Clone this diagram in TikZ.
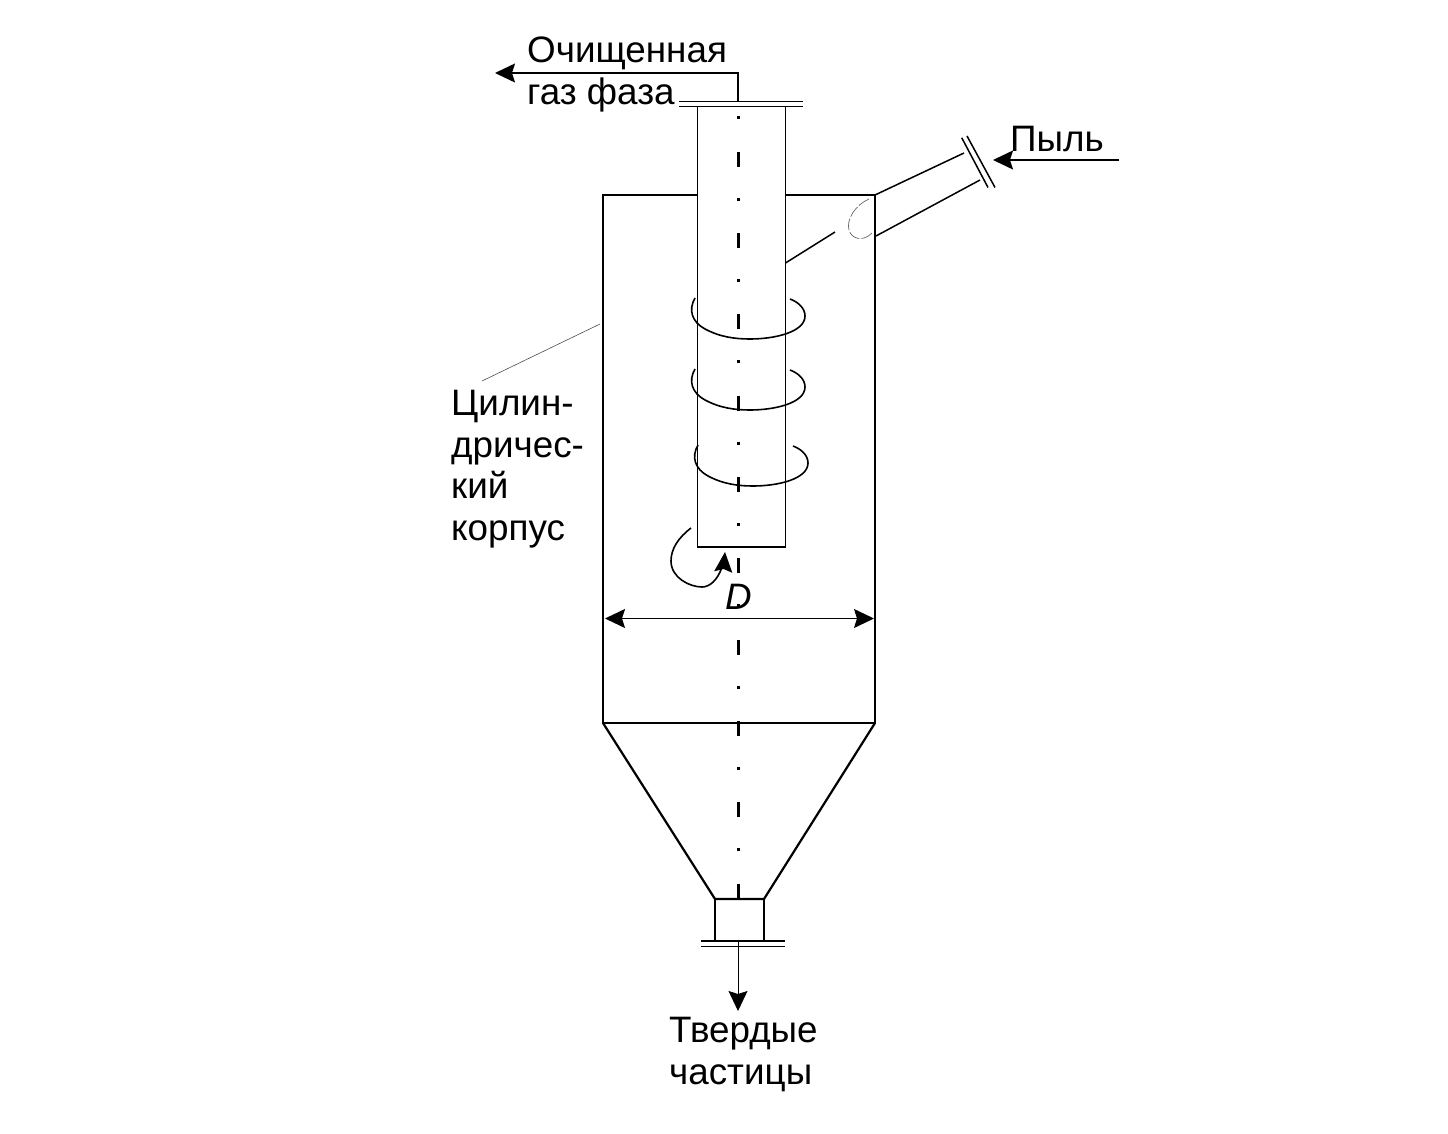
\documentclass[tikz,border=0pt]{standalone}
\usepackage{fontspec}
\setmainfont{Liberation Sans}
\usetikzlibrary{arrows.meta,bending,positioning}
\tikzset{
  wall/.style={draw=black,line width=2.2pt,line join=miter},
  pipe/.style={draw=black,line width=1.5pt},
  flow/.style={draw=black,line width=1.3pt,->},
  axisline/.style={draw=black,line width=3pt,dash pattern=on 3pt off 32.3pt on 15pt off 31pt},
  swirl/.style={draw=black,line width=1.6pt},
  lbl/.style={font=\fontsize{36.8}{41.5}\selectfont,inner sep=0pt,align=left,anchor=north west},
}
\begin{document}
\begin{tikzpicture}[x=1pt,y=-1pt,>={Stealth[length=20pt,width=19pt,inset=3pt]}]
  \useasboundingbox (0,0) rectangle (1448,1134);
  % axis
  \coordinate (axtop) at (738,116.5);
  \coordinate (axbot) at (738,899);
  \draw[axisline] (axtop) -- (axbot);
  % body and cone
  \coordinate (bodytl) at (603,195);
  \coordinate (bodytr) at (875,195);
  \coordinate (bodybl) at (603,723);
  \coordinate (bodybr) at (875,723);
  \coordinate (tubetl) at (697.5,107);
  \coordinate (tubetr) at (785.5,107);
  \coordinate (tubebl) at (697.5,547);
  \coordinate (tubebr) at (785.5,547);
  \coordinate (necktl) at (715,899);
  \coordinate (necktr) at (764,899);
  \coordinate (neckbl) at (715,941);
  \coordinate (neckbr) at (764,941);
  \draw[wall] (697.5,195) -- (bodytl) -- (bodybl) -- (bodybr) -- (bodytr) -- (785.5,195);
  \draw[wall] (bodybl) -- (necktl) -- (necktr) -- (bodybr);
  \draw[wall] (necktl) -- (neckbl);
  \draw[wall] (necktr) -- (neckbr);
  % central tube
  \draw[pipe] (tubetl) -- (tubebl) -- (tubebr) -- (tubetr);
  \draw[pipe] (679,101.7) -- (803,101.7);
  \draw[pipe] (679,106.7) -- (803,106.7);
  \draw[pipe] (701,941) -- (785,941);
  \draw[pipe] (701,946.5) -- (785,946.5);
  % inlet
  \draw[pipe] (bodytr) -- (964,153);
  \draw[pipe] (876,236) -- (980,180);
  \draw[pipe] (961.7,137.7) -- (988,187.5);
  \draw[pipe] (967,136) -- (995,187.5);
  \draw[pipe] (785.5,263) -- (835,232);
  \draw[draw=black!60,line width=0.7pt,dash pattern=on 12pt off 2pt] (869,199) .. controls (855,205) and (846,220) .. (849,230)
    .. controls (851,238) and (862,243) .. (872,233);
  % flows
  \coordinate (outtop) at (738,101);
  \coordinate (outturn) at (738,73);
  \coordinate (outend) at (495,73);
  \coordinate (dustin) at (1119,160);
  \coordinate (dustend) at (993,160);
  \coordinate (solidin) at (738,941);
  \coordinate (solidend) at (738,1011);
  \draw[flow] (outtop) -- (outturn) -- (outend);
  \draw[flow] (dustin) -- (dustend);
  \draw[flow,line width=0.8pt] (solidin) -- (solidend);
  % vortex
  \foreach \ox/\oy in {0/0,0/71,3/147}{
    \draw[swirl,shift={(\ox,\oy)}] (695,298) .. controls (688,310) and (692,322) .. (705,329)
      .. controls (720,337) and (735,339) .. (750,339)
      .. controls (775,339) and (805,332) .. (805,316)
      .. controls (805,308) and (798,302) .. (790,299);
  }
  \draw[swirl,-{Stealth[length=20pt,width=18pt,inset=3pt,flex=0]}] (691,528) .. controls (678,538) and (671,549) .. (671,561)
    .. controls (671,578) and (690,587) .. (702,587)
    .. controls (712,587) and (723,575) .. (725,552);
  % size
  \coordinate (dleft) at (605,618.5);
  \coordinate (dright) at (874,618.5);
  \draw[draw=black,line width=1.3pt,<->] (dleft) -- (dright);
  \node[font=\fontsize{36.8}{41.5}\selectfont\itshape,inner sep=0pt] (dlabel) at (739,597) {D};
  % labels
  \node[lbl] (cleangas) at (527,37) {Очищенная\\газ фаза};
  \node[lbl] (dust) at (1010,126) {Пыль};
  \node[lbl] (body) at (451,390) {Цилин-\\дричес-\\кий\\корпус};
  \node[lbl] (solids) at (669,1017) {Твердые\\частицы};
  \coordinate (leadend) at (600,324);
  \coordinate (leadstart) at (482,381);
  \draw[draw=black!70,line width=0.6pt] (leadstart) -- (leadend);
\end{tikzpicture}
\end{document}
